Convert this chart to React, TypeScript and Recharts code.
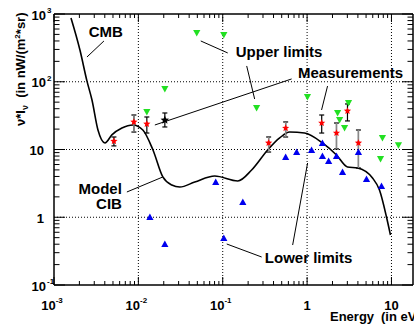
import React from 'react';
import { ComposedChart, Line, Scatter, XAxis, YAxis, ErrorBar, ReferenceLine, ReferenceDot } from 'recharts';

// energy in eV, flux nu*I_nu in nW/(m^2 sr)
const modelEnergy = [1.59e-3, 2.03e-3, 2.46e-3, 2.82e-3, 3.32e-3, 4.02e-3, 4.85e-3, 6.38e-3, 8.61e-3, 0.0113, 0.0149, 0.0195, 0.0249, 0.031, 0.0466, 0.0804, 0.151, 0.22, 0.341, 0.473, 0.621, 0.933, 1.52, 2.23, 3.01, 3.96, 5.96, 7.21, 8.73, 9.73];
const modelFlux = [873, 294, 102, 53.8, 19.4, 12.5, 16.4, 20.7, 23.0, 19.4, 9.84, 3.93, 2.99, 2.79, 3.31, 4.06, 3.43, 4.98, 9.84, 14.8, 18.1, 17.5, 12.5, 8.3, 5.52, 5.33, 3.8, 2.52, 1.01, 0.547];

// measurements, black error bars
const measBlackEnergy = [5.13e-3, 0.0126, 1.49, 3.01];
const measBlackFlux = [13.3, 23.8, 24.6, 37.0];
const measBlackLow = [11.3, 17.5, 17.5, 26.4];
const measBlackHigh = [15.3, 30.2, 32.3, 47.0];

// measurements, grey error bars
const measGreyEnergy = [8.85e-3, 0.35, 0.557, 2.23, 4.06];
const measGreyFlux = [25.5, 12.5, 20.7, 17.5, 12.5];
const measGreyLow = [18.1, 9.18, 15.3, 10.2, 5.33];
const measGreyHigh = [32.3, 15.3, 25.5, 24.6, 19.4];

// the black star measurement
const measStarEnergy = [0.0206];
const measStarFlux = [27.2];
const measStarLow = [21.5];
const measStarHigh = [34.6];

const upperEnergy = [0.0126, 0.0206, 0.0492, 0.103, 0.252, 1.01, 2.3, 2.43, 2.78, 3.1, 7.42, 7.82, 12.1];
const upperFlux = [35.8, 78.2, 525, 490, 41.0, 59.6, 34.6, 27.2, 20.7, 48.6, 7.24, 14.8, 11.6];

const lowerEnergy = [0.0137, 0.0206, 0.0826, 0.103, 0.173, 0.557, 0.752, 1.13, 1.52, 1.52, 1.8, 2.23, 2.63, 4.06, 5.06, 7.62];
const lowerFlux = [1.01, 0.403, 3.31, 0.494, 1.68, 7.75, 9.18, 9.84, 12.5, 8.02, 6.76, 8.02, 4.66, 9.18, 3.67, 2.89];

const xDecades = [0.001, 0.01, 0.1, 1, 10];
const yDecades = [0.1, 1, 10, 100, 1000];

// annotation pointers [from, to] in data coords
const pointers = [
  [[3.91e-3, 400], [2.46e-3, 232]],
  [[0.0549, 400], [0.1146, 266]],
  [[0.1923, 171], [0.239, 55.6]],
  [[0.01568, 23.0], [0.6556, 110]],
  [[1.748, 86.5], [1.484, 38.3]],
  [[7.31e-3, 2.36], [0.0195, 3.93]],
  [[0.1115, 0.403], [0.2893, 0.259]],
  [[1.014, 6.32], [0.674, 0.389]],
];

const labels = [
  { text: 'CMB', x: 4.12e-3, y: 542, anchor: 'middle' },
  { text: 'Upper limits', x: 0.466, y: 275, anchor: 'middle' },
  { text: 'Measurements', x: 3.27, y: 134.6, anchor: 'middle' },
  { text: 'Model', x: 6.38e-3, y: 2.61, anchor: 'end' },
  { text: 'CIB', x: 6.38e-3, y: 1.57, anchor: 'end' },
  { text: 'Lower limits', x: 1.042, y: 0.2503, anchor: 'middle' },
];

const FONT = '"Liberation Sans", Arial, Helvetica, sans-serif';
const X_MAX = 18;

const logTicks = (decades: number[], max: number) =>
  decades.flatMap(d => [1, 2, 3, 4, 5, 6, 7, 8, 9].map(k => k * d)).filter(v => v <= max * 1.0001);
const xTicks = logTicks(xDecades, X_MAX);
const yTicks = logTicks(yDecades, 1000);

const isDecade = (v: number) => Math.abs(Math.log10(v) - Math.round(Math.log10(v))) < 1e-6;

const pts = (xs: number[], ys: number[]) => xs.map((x, i) => ({ x, y: ys[i] }));
const withErr = (xs: number[], ys: number[], lo: number[], hi: number[]) =>
  xs.map((x, i) => ({ x, y: ys[i], err: [ys[i] - lo[i], hi[i] - ys[i]] }));

const modelData = pts(modelEnergy, modelFlux);
const blackData = withErr(measBlackEnergy, measBlackFlux, measBlackLow, measBlackHigh);
const greyData = withErr(measGreyEnergy, measGreyFlux, measGreyLow, measGreyHigh);
const starData = withErr(measStarEnergy, measStarFlux, measStarLow, measStarHigh);
const upperData = pts(upperEnergy, upperFlux);
const lowerData = pts(lowerEnergy, lowerFlux);

const starPoints = (cx: number, cy: number, r: number) => {
  const out: string[] = [];
  for (let k = 0; k < 10; k++) {
    const a = -Math.PI / 2 + (k * Math.PI) / 5;
    const rr = k % 2 ? r * 0.45 : r;
    out.push(`${cx + rr * Math.cos(a)},${cy + rr * Math.sin(a)}`);
  }
  return out.join(' ');
};

const RedStar = (p: any) => <polygon points={starPoints(p.cx, p.cy, 3.8)} fill="#ff0000" />;
const BlackStar = (p: any) => <polygon points={starPoints(p.cx, p.cy, 4.5)} fill="#000" />;
const DownTri = (p: any) => (
  <polygon points={`${p.cx - 3.6},${p.cy - 3} ${p.cx + 3.6},${p.cy - 3} ${p.cx},${p.cy + 3.5}`} fill="#22e022" />
);
const UpTri = (p: any) => (
  <polygon points={`${p.cx - 3.6},${p.cy + 3} ${p.cx + 3.6},${p.cy + 3} ${p.cx},${p.cy - 3.5}`} fill="#0000ee" />
);

const expOf = (v: number) => Math.round(Math.log10(v));

const BottomTick = (props: any) => {
  const { x, y, payload } = props;
  const major = isDecade(payload.value);
  const e = expOf(payload.value);
  return (
    <g>
      <line x1={x} x2={x} y1={y} y2={y - (major ? 8 : 4)} stroke="#000" />
      {major && (
        <text x={e < 0 ? x - 2 : x} y={y + 25} textAnchor="middle" fontSize={13} fontWeight="bold" fontFamily={FONT} fill="#000">
          {e === 0 ? '1' : e === 1 ? '10' : <>10<tspan dy={-7} fontSize={8}>{e}</tspan></>}
        </text>
      )}
    </g>
  );
};

const TopTick = (props: any) => {
  const { x, y, payload } = props;
  const major = isDecade(payload.value);
  return <line x1={x} x2={x} y1={y} y2={y + (major ? 8 : 4)} stroke="#000" />;
};

const LeftTick = (props: any) => {
  const { x, y, payload } = props;
  const major = isDecade(payload.value);
  const e = expOf(payload.value);
  const txt = { fontSize: 13, fontWeight: 'bold' as const, fontFamily: FONT, fill: '#000' };
  return (
    <g>
      <line x1={x} x2={x + (major ? 11 : 5.5)} y1={y} y2={y} stroke="#000" />
      {major && (e === 0 || e === 1) && (
        <text x={x - 10} y={y + 5.5} textAnchor="end" {...txt}>{e === 0 ? '1' : '10'}</text>
      )}
      {major && e !== 0 && e !== 1 && (
        <g>
          <text x={x - 8} y={y + 5.5} textAnchor="end" {...txt}>10</text>
          <text x={x - 7} y={y - 1} textAnchor="start" {...txt} fontSize={8}>{e}</text>
        </g>
      )}
    </g>
  );
};

const RightTick = (props: any) => {
  const { x, y, payload } = props;
  const major = isDecade(payload.value);
  return <line x1={x} x2={x - (major ? 11 : 5.5)} y1={y} y2={y} stroke="#000" />;
};

const frame = { stroke: '#000', strokeWidth: 1.5 };
const dotted = { stroke: '#000', strokeDasharray: '1 2', strokeWidth: 1 };

export default function App() {
  return (
    <div style={{ position: 'absolute', left: 0, top: 0, background: '#fff' }}>
      <ComposedChart width={414} height={327} margin={{ top: 0, right: 0, bottom: 0, left: 0 }}>
        <XAxis xAxisId={0} dataKey="x" type="number" scale="log" domain={[0.001, X_MAX]} allowDataOverflow
          ticks={xTicks} interval={0} tick={BottomTick} tickLine={false} tickSize={0} tickMargin={0}
          axisLine={frame} height={42} />
        <XAxis xAxisId="top" orientation="top" dataKey="x" type="number" scale="log" domain={[0.001, X_MAX]} allowDataOverflow
          ticks={xTicks} interval={0} tick={TopTick} tickLine={false} tickSize={0} tickMargin={0}
          axisLine={frame} height={14} />
        <YAxis yAxisId={0} dataKey="y" type="number" scale="log" domain={[0.1, 1000]} allowDataOverflow
          ticks={yTicks} interval={0} tick={LeftTick} tickLine={false} tickSize={0} tickMargin={0}
          axisLine={frame} width={54} />
        <YAxis yAxisId="right" orientation="right" dataKey="y" type="number" scale="log" domain={[0.1, 1000]} allowDataOverflow
          ticks={yTicks} interval={0} tick={RightTick} tickLine={false} tickSize={0} tickMargin={0}
          axisLine={frame} width={1} />

        {xDecades.slice(1).map(v => <ReferenceLine key={'gx' + v} x={v} {...dotted} />)}
        {yDecades.slice(1, 4).map(v => <ReferenceLine key={'gy' + v} y={v} {...dotted} />)}

        {pointers.map((s, i) => (
          <ReferenceLine key={'p' + i} segment={[{ x: s[0][0], y: s[0][1] }, { x: s[1][0], y: s[1][1] }]} stroke="#000" strokeWidth={1} />
        ))}

        <Line data={modelData} dataKey="y" type="monotone" stroke="#000" strokeWidth={1.6} dot={false} isAnimationActive={false} />

        <Scatter data={upperData} dataKey="y" shape={DownTri} isAnimationActive={false} />
        <Scatter data={lowerData} dataKey="y" shape={UpTri} isAnimationActive={false} />

        <Scatter data={blackData} dataKey="y" shape={RedStar} isAnimationActive={false}>
          <ErrorBar dataKey="err" direction="y" width={2.5} stroke="#000" strokeWidth={1.2} />
        </Scatter>
        <Scatter data={greyData} dataKey="y" shape={RedStar} isAnimationActive={false}>
          <ErrorBar dataKey="err" direction="y" width={2.5} stroke="#000" strokeWidth={1.2} />
          <ErrorBar dataKey="err" direction="y" width={0} stroke="#888" strokeWidth={1.4} />
        </Scatter>
        <Scatter data={starData} dataKey="y" shape={BlackStar} isAnimationActive={false}>
          <ErrorBar dataKey="err" direction="y" width={2.5} stroke="#000" strokeWidth={1.2} />
        </Scatter>

        {labels.map(l => (
          <ReferenceDot key={l.text} x={l.x} y={l.y} r={0} ifOverflow="visible"
            shape={(p: any) => (
              <text x={p.cx} y={p.cy + 5.4} textAnchor={l.anchor as any} fontSize={15} fontWeight="bold" fontFamily={FONT} fill="#000">
                {l.text}
              </text>
            )} />
        ))}

        <text x={25} y={126} transform="rotate(-90 25 126)" fontSize={13} fontWeight="bold" fontFamily={FONT} fill="#000">
          ν*I<tspan dy={3} fontSize={9}>ν</tspan><tspan dy={-3}>{'\u00a0\u00a0'}(in nW/(m</tspan><tspan dy={-5} fontSize={8}>2</tspan><tspan dy={5}>*sr)</tspan>
        </text>
        <text y={321} fontSize={13} fontWeight="bold" fontFamily={FONT} fill="#000">
          <tspan x={330}>Energy</tspan><tspan x={381}>(in eV)</tspan>
        </text>
      </ComposedChart>
    </div>
  );
}
